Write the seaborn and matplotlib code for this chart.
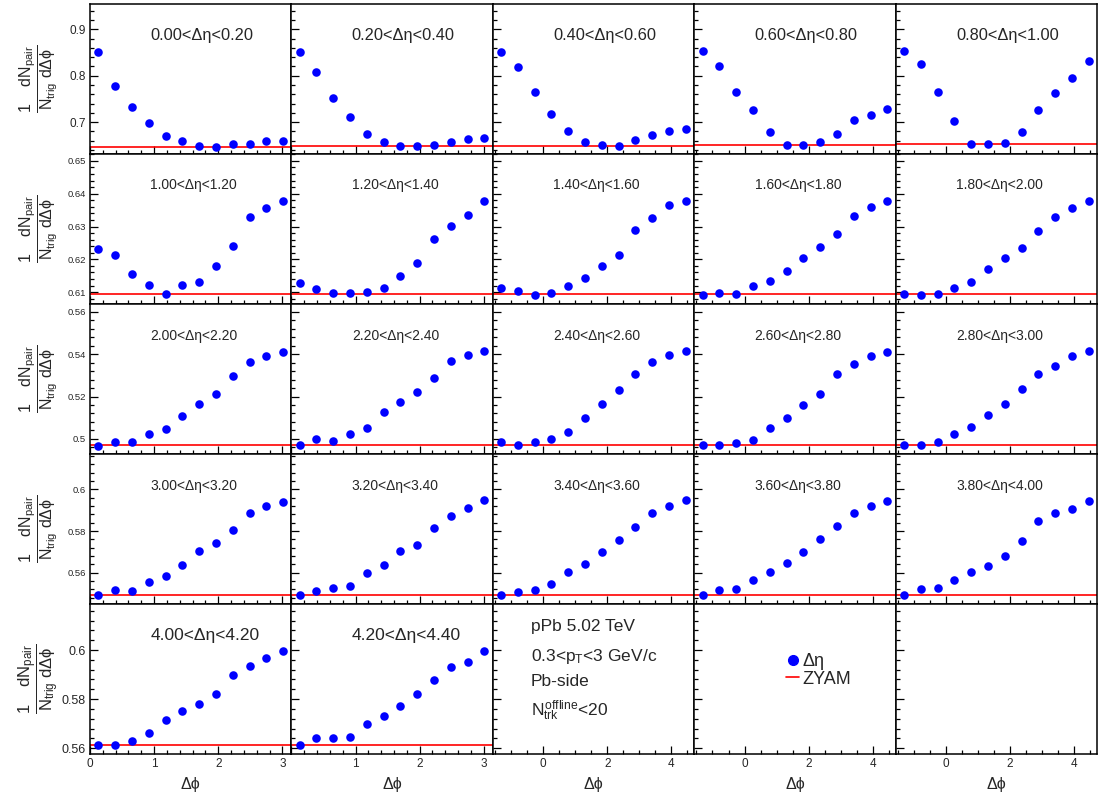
import matplotlib
matplotlib.use("Agg")
import matplotlib.pyplot as plt
from matplotlib.lines import Line2D
from matplotlib.ticker import MultipleLocator, FormatStrFormatter
import seaborn as sns

sns.set_style("ticks")
plt.rcParams['font.family'] = ['Liberation Sans', 'DejaVu Sans']
plt.rcParams['mathtext.fontset'] = 'custom'
plt.rcParams['mathtext.rm'] = 'Liberation Sans'
plt.rcParams['mathtext.it'] = 'Liberation Sans'
plt.rcParams['mathtext.sf'] = 'Liberation Sans'
plt.rcParams['mathtext.bf'] = 'Liberation Sans:bold'

# ---------------- data ----------------
deta_labels = ['0.00<Δη<0.20', '0.20<Δη<0.40', '0.40<Δη<0.60', '0.60<Δη<0.80', '0.80<Δη<1.00',
               '1.00<Δη<1.20', '1.20<Δη<1.40', '1.40<Δη<1.60', '1.60<Δη<1.80', '1.80<Δη<2.00',
               '2.00<Δη<2.20', '2.20<Δη<2.40', '2.40<Δη<2.60', '2.60<Δη<2.80', '2.80<Δη<3.00',
               '3.00<Δη<3.20', '3.20<Δη<3.40', '3.40<Δη<3.60', '3.60<Δη<3.80', '3.80<Δη<4.00',
               '4.00<Δη<4.20', '4.20<Δη<4.40']

# Δφ bin centres: near-side axis (0..π) and full axis (-π/2..3π/2)
dphi_near = [0.13, 0.39, 0.65, 0.92, 1.18, 1.44, 1.70, 1.96, 2.23, 2.49, 2.75, 3.01]
dphi_full = [-1.31, -0.79, -0.26, 0.26, 0.79, 1.31, 1.83, 2.36, 2.88, 3.40, 3.93, 4.45]

y_000 = [0.851, 0.778, 0.733, 0.697, 0.670, 0.659, 0.648, 0.647, 0.652, 0.653, 0.659, 0.660]
y_020 = [0.852, 0.808, 0.753, 0.710, 0.674, 0.657, 0.648, 0.648, 0.651, 0.657, 0.664, 0.666]
y_040 = [0.852, 0.819, 0.766, 0.717, 0.681, 0.657, 0.651, 0.648, 0.661, 0.673, 0.680, 0.686]
y_060 = [0.854, 0.821, 0.764, 0.725, 0.678, 0.651, 0.650, 0.656, 0.674, 0.704, 0.715, 0.728]
y_080 = [0.854, 0.825, 0.764, 0.703, 0.653, 0.652, 0.654, 0.679, 0.725, 0.762, 0.795, 0.831]

y_100 = [0.6231, 0.6214, 0.6155, 0.6123, 0.6095, 0.6121, 0.6132, 0.6181, 0.6242, 0.6330, 0.6355, 0.6378]
y_120 = [0.6128, 0.6110, 0.6098, 0.6098, 0.6101, 0.6113, 0.6150, 0.6189, 0.6262, 0.6302, 0.6336, 0.6378]
y_140 = [0.6113, 0.6104, 0.6090, 0.6096, 0.6120, 0.6143, 0.6181, 0.6214, 0.6288, 0.6327, 0.6366, 0.6377]
y_160 = [0.6090, 0.6099, 0.6095, 0.6118, 0.6134, 0.6166, 0.6205, 0.6238, 0.6278, 0.6333, 0.6361, 0.6377]
y_180 = [0.6095, 0.6091, 0.6094, 0.6114, 0.6130, 0.6171, 0.6205, 0.6235, 0.6287, 0.6329, 0.6355, 0.6377]

y_200 = [0.4968, 0.4987, 0.4986, 0.5022, 0.5047, 0.5110, 0.5164, 0.5212, 0.5296, 0.5362, 0.5392, 0.5412]
y_220 = [0.4972, 0.5000, 0.4991, 0.5024, 0.5052, 0.5127, 0.5175, 0.5222, 0.5288, 0.5368, 0.5396, 0.5415]
y_240 = [0.4986, 0.4972, 0.4986, 0.5000, 0.5033, 0.5099, 0.5165, 0.5231, 0.5307, 0.5363, 0.5396, 0.5415]
y_260 = [0.4972, 0.4972, 0.4981, 0.4995, 0.5052, 0.5099, 0.5160, 0.5212, 0.5307, 0.5354, 0.5392, 0.5410]
y_280 = [0.4972, 0.4972, 0.4986, 0.5024, 0.5057, 0.5113, 0.5165, 0.5236, 0.5307, 0.5344, 0.5392, 0.5415]

y_300 = [0.5492, 0.5517, 0.5514, 0.5555, 0.5584, 0.5635, 0.5703, 0.5742, 0.5806, 0.5886, 0.5918, 0.5941]
y_320 = [0.5493, 0.5512, 0.5527, 0.5536, 0.5599, 0.5637, 0.5704, 0.5733, 0.5814, 0.5872, 0.5910, 0.5949]
y_340 = [0.5493, 0.5507, 0.5517, 0.5546, 0.5603, 0.5642, 0.5699, 0.5757, 0.5819, 0.5886, 0.5920, 0.5949]
y_360 = [0.5493, 0.5517, 0.5522, 0.5565, 0.5603, 0.5647, 0.5699, 0.5761, 0.5824, 0.5886, 0.5920, 0.5944]
y_380 = [0.5493, 0.5522, 0.5527, 0.5565, 0.5603, 0.5632, 0.5680, 0.5752, 0.5848, 0.5886, 0.5905, 0.5944]

y_400 = [0.5611, 0.5613, 0.5631, 0.5662, 0.5713, 0.5752, 0.5778, 0.5822, 0.5899, 0.5936, 0.5967, 0.5996]
y_420 = [0.5612, 0.5641, 0.5641, 0.5645, 0.5698, 0.5731, 0.5771, 0.5820, 0.5878, 0.5931, 0.5951, 0.5996]

zyam = [0.6467, 0.6474, 0.6480, 0.6496, 0.6524,
        0.6093, 0.6093, 0.6093, 0.6093, 0.6093,
        0.4970, 0.4970, 0.4970, 0.4970, 0.4970,
        0.5492, 0.5492, 0.5492, 0.5492, 0.5492,
        0.5612, 0.5612]

series = [y_000, y_020, y_040, y_060, y_080,
          y_100, y_120, y_140, y_160, y_180,
          y_200, y_220, y_240, y_260, y_280,
          y_300, y_320, y_340, y_360, y_380,
          y_400, y_420]

row_ylim = [(0.631, 0.955), (0.6064, 0.6521), (0.4929, 0.5636), (0.5450, 0.6170), (0.5576, 0.6188)]
row_major = [0.1, 0.01, 0.02, 0.02, 0.02]
row_minor = [0.02, 0.002, 0.004, 0.004, 0.004]
row_ytick_fs = [8.5, 6.8, 6.8, 6.8, 9.0]
row_title_fs = [11.8, 10.0, 10.0, 10.0, 12.5]

BLUE = '#0000FF'
RED = '#FF0000'

fig, axes = plt.subplots(5, 5, figsize=(11, 7.96), dpi=100, sharey='row')
fig.subplots_adjust(left=90/1100, right=1097/1100, bottom=1-754/796, top=1-4/796,
                    wspace=0, hspace=0)

for r in range(5):
    for c in range(5):
        ax = axes[r, c]
        idx = r*5 + c
        near = c < 2
        if near:
            ax.set_xlim(0, 3.1416)
            ax.xaxis.set_major_locator(MultipleLocator(1))
            ax.xaxis.set_minor_locator(MultipleLocator(0.2))
        else:
            ax.set_xlim(-1.5708, 4.7124)
            ax.xaxis.set_major_locator(MultipleLocator(2))
            ax.xaxis.set_minor_locator(MultipleLocator(0.5))
        if idx < len(series):
            xs = dphi_near if near else dphi_full
            sns.scatterplot(x=xs, y=series[idx], ax=ax, color=BLUE, s=38,
                            linewidth=0, legend=False, zorder=3)
            ax.axhline(zyam[idx], color=RED, lw=1.2, zorder=2)
            ax.text(0.30, 0.79, deta_labels[idx], transform=ax.transAxes,
                    fontsize=row_title_fs[r], ha='left', va='center')
        ax.set_ylim(*row_ylim[r])
        ax.yaxis.set_major_locator(MultipleLocator(row_major[r]))
        ax.yaxis.set_minor_locator(MultipleLocator(row_minor[r]))
        ax.yaxis.set_major_formatter(FormatStrFormatter('%g'))
        ax.tick_params(which='both', direction='in', top=False, right=False,
                       width=0.9, color='black')
        ax.tick_params(which='major', length=6)
        ax.tick_params(which='minor', length=3)
        ax.tick_params(axis='y', labelsize=row_ytick_fs[r], pad=3)
        ax.tick_params(axis='x', labelsize=8.5, pad=3)
        for sp in ax.spines.values():
            sp.set_linewidth(1.1)
            sp.set_color('black')
        if r < 4:
            ax.tick_params(axis='x', labelbottom=False)
        else:
            ax.set_xlabel('Δϕ', fontsize=11.5, labelpad=5)
            if c == 1:
                ax.set_xticks([0, 1, 2, 3])
                ax.set_xticklabels(['', '1', '2', '3'])
        ax.set_ylabel('')

# y-axis titles for each row
ylab = r'$\dfrac{1\ \ \ \ dN_{\mathrm{pair}}}{N_{\mathrm{trig}}\ d\Delta\phi}$'
for r in range(5):
    yc = 1 - (79 + 150*r)/796
    fig.text(39/1100, yc, ylab, rotation=90, ha='center', va='center',
             fontsize=12 if r == 4 else 11.5)

# info text panel
ax = axes[4, 2]
ax.text(0.19, 0.847, 'pPb 5.02 TeV', transform=ax.transAxes, fontsize=12.5, va='center')
ax.text(0.19, 0.647, r'0.3<$p_{\mathrm{T}}$<3 GeV/c', transform=ax.transAxes, fontsize=12.5, va='center')
ax.text(0.19, 0.48, 'Pb-side', transform=ax.transAxes, fontsize=12.5, va='center')
ax.text(0.19, 0.29, r'$N_{\mathrm{trk}}^{\mathrm{offline}}$<20', transform=ax.transAxes, fontsize=12.5, va='center')

# legend panel
ax = axes[4, 3]
handles = [Line2D([], [], marker='o', color=BLUE, linestyle='none', markersize=7),
           Line2D([], [], color=RED, lw=1.2)]
ax.legend(handles, ['Δη', 'ZYAM'], loc='upper left', bbox_to_anchor=(0.455, 0.67),
          frameon=False, fontsize=13, handlelength=0.75, handletextpad=0.15,
          labelspacing=0.0, borderaxespad=0, borderpad=0)

fig.savefig('out.png', dpi=100, facecolor='white')
